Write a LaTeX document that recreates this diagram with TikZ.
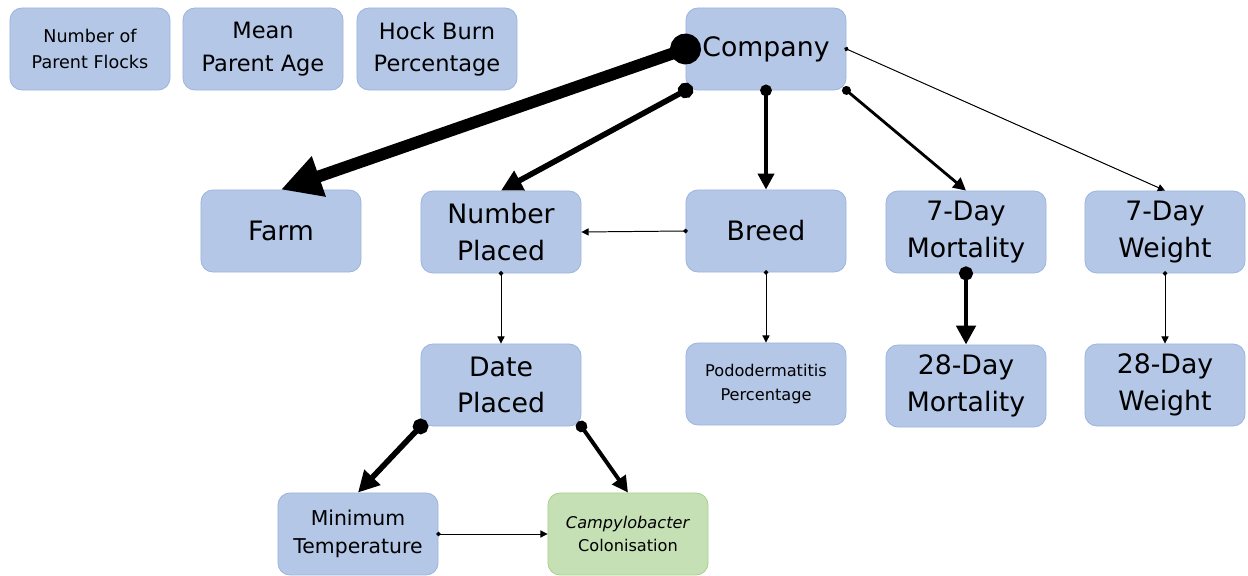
\documentclass[tikz,border=0pt]{standalone}
\usepackage{fontspec}
\setmainfont{DejaVu Sans}
\usepackage{xcolor}
\usepackage{tikz}
\usetikzlibrary{arrows.meta, positioning}

\definecolor{boxblue}{HTML}{B4C7E7}
\definecolor{edgeblue}{HTML}{9DB5DE}
\definecolor{boxgreen}{HTML}{C5E0B4}
\definecolor{edgegreen}{HTML}{A9D18E}

\tikzset{
    var/.style={draw=edgeblue, fill=boxblue, line width=0.6pt, rounded corners=0.3cm,
        minimum width=4cm, minimum height=2.05cm, inner sep=2pt, align=center,
        font=\fontsize{19}{26}\selectfont},
    smallvar/.style={var, font=\fontsize{16}{23}\selectfont},
    tinyvar/.style={var, font=\fontsize{12.5}{18}\selectfont},
    outcome/.style={var, draw=edgegreen, fill=boxgreen, font=\fontsize{11.5}{17}\selectfont},
    dep/.style={line width=#1, shorten <={-0.75pt-1.2*#1},
        {Circle[length=1.5pt 2.4]}-{Triangle[length=3pt 3, width=3pt 3]}}
}

\begin{document}
\begin{tikzpicture}[x=0.025cm, y=-0.025cm]
    \useasboundingbox (0,0) rectangle (1248,576);

    % Unconnected variables
    \node[tinyvar] (flocks) at (90,49) {Number of\\Parent Flocks};
    \node[smallvar] (age) at (263,49) {Mean\\Parent Age};
    \node[smallvar] (hock) at (437,49) {Hock Burn\\Percentage};

    % Network
    \node[var] (company) at (766,49) {Company};
    \node[var] (farm) at (281,231) {Farm};
    \node[var] (nplaced) at (501,232) {Number\\Placed};
    \node[var] (breed) at (766,231) {Breed};
    \node[var] (mort7) at (966,232) {7-Day\\Mortality};
    \node[var] (weight7) at (1165,232) {7-Day\\Weight};
    \node[var] (dplaced) at (501,385) {Date\\Placed};
    \node[var, font=\fontsize{11.5}{17}\selectfont] (podo) at (766,384) {Pododermatitis\\Percentage};
    \node[var] (mort28) at (966,386) {28-Day\\Mortality};
    \node[var] (weight28) at (1165,385) {28-Day\\Weight};
    \node[var, font=\fontsize{14.5}{20}\selectfont] (mintemp) at (358,534) {Minimum\\Temperature};
    \node[outcome] (campy) at (628,534) {\textit{Campylobacter}\\Colonisation};

    % Arcs, width by strength
    \draw[dep=8.5pt] (company.west) -- (farm.north);
    \draw[dep=4pt] (company.south west) -- (nplaced.north);
    \draw[dep=2.8pt] (company.south) -- (breed.north);
    \draw[dep=2pt] (company.south east) -- (mort7.north);
    \draw[dep=0.7pt] (company.east) -- (weight7.north);
    \draw[dep=0.7pt] (breed.west) -- (nplaced.east);
    \draw[dep=0.7pt] (nplaced.south) -- (dplaced.north);
    \draw[dep=0.7pt] (breed.south) -- (podo.north);
    \draw[dep=3.5pt] (mort7.south) -- (mort28.north);
    \draw[dep=0.7pt] (weight7.south) -- (weight28.north);
    \draw[dep=4pt] (dplaced.south west) -- (mintemp.north);
    \draw[dep=2.8pt] (dplaced.south east) -- (campy.north);
    \draw[dep=0.7pt] (mintemp.east) -- (campy.west);
\end{tikzpicture}
\end{document}
